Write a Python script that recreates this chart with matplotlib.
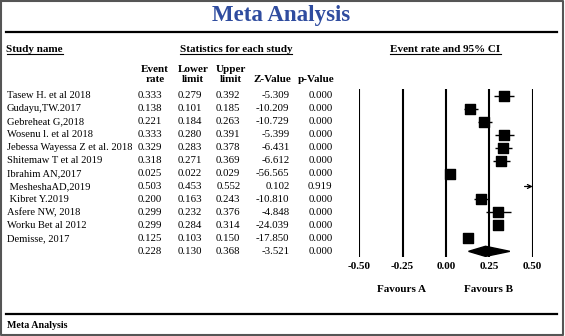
import matplotlib
matplotlib.use("Agg")
import matplotlib.pyplot as plt
import matplotlib.transforms as mtransforms
from matplotlib.patches import Polygon

# study table
studies = ["Tasew H. et al 2018", "Gudayu,TW.2017", "Gebreheat G,2018",
           "Wosenu l. et al 2018", "Jebessa Wayessa Z et al. 2018",
           "Shitemaw T et al 2019", "Ibrahim AN,2017", " MesheshaAD,2019",
           " Kibret Y.2019", "Asfere NW, 2018", "Worku Bet al 2012",
           "Demisse, 2017"]
event_rate = [0.333, 0.138, 0.221, 0.333, 0.329, 0.318, 0.025, 0.503,
              0.200, 0.299, 0.299, 0.125]
lower = [0.279, 0.101, 0.184, 0.280, 0.283, 0.271, 0.022, 0.453,
         0.163, 0.232, 0.284, 0.103]
upper = [0.392, 0.185, 0.263, 0.391, 0.378, 0.369, 0.029, 0.552,
         0.243, 0.376, 0.314, 0.150]
z_value = [-5.309, -10.209, -10.729, -5.399, -6.431, -6.612, -56.565,
           0.102, -10.810, -4.848, -24.039, -17.850]
p_value = [0.000, 0.000, 0.000, 0.000, 0.000, 0.000, 0.000, 0.919,
           0.000, 0.000, 0.000, 0.000]

# pooled estimate
pooled = {"rate": 0.228, "lower": 0.130, "upper": 0.368, "z": -3.521, "p": 0.000}

ticks = [-0.50, -0.25, 0.00, 0.25, 0.50]

W, H = 565, 336
serif = "Liberation Serif"
plt.rcParams["font.family"] = [serif, "DejaVu Serif"]

fig = plt.figure(figsize=(W / 100, H / 100), dpi=100)

# full-figure layer in pixel coordinates for the table text and frame
ax0 = fig.add_axes([0, 0, 1, 1])
ax0.set_xlim(0, W)
ax0.set_ylim(H, 0)
ax0.axis("off")

# forest plot panel: x from -0.5 to 0.5, rows as y
x_left, x_right = 359.3, 532.7
y_top, y_bot = 89.0, 256.7
row0, row_h = 95.7, 12.97
ax = fig.add_axes([x_left / W, (H - y_bot) / H, (x_right - x_left) / W, (y_bot - y_top) / H])
ax.set_xlim(-0.5, 0.5)
ax.set_ylim((y_bot - row0) / row_h, (y_top - row0) / row_h)
for s in ax.spines.values():
    s.set_visible(False)
ax.patch.set_alpha(0)
ax.set_yticks([])
ax.set_xticks(ticks)
ax.set_xticklabels(["%.2f" % t for t in ticks], fontsize=8, fontweight="bold")
ax.tick_params(axis="x", length=0, pad=4)

for t in ticks:
    ax.axvline(t, color="black", lw=1.5)

rows = list(range(len(studies)))
xmax = 0.5
for i in rows:
    if event_rate[i] > xmax:
        ax.annotate("", xy=(xmax, i), xytext=(lower[i], i),
                    arrowprops=dict(arrowstyle="->", lw=0.9, color="black",
                                    shrinkA=0, shrinkB=0, mutation_scale=7),
                    annotation_clip=False)
    else:
        ax.hlines(i, lower[i], min(upper[i], xmax), color="black", lw=1.0)
        ax.scatter(event_rate[i], i, marker="s", s=62, color="black", zorder=3,
                   clip_on=False)

ps = len(studies)
hd = 0.39
diamond = Polygon([(pooled["lower"], ps), (pooled["rate"], ps - hd),
                   (pooled["upper"], ps), (pooled["rate"], ps + hd)],
                  closed=True, color="black", zorder=3)
ax.add_patch(diamond)

# table text: x in pixels, y in the forest rows
tr = mtransforms.blended_transform_factory(ax0.transData, ax.transData)
fs_name = 7.6
fs = 7.8
col_right = [162, 202, 240.5, 289.5, 332.5]
for i in rows:
    ax0.text(7, i, studies[i], transform=tr, fontsize=fs_name, va="center", ha="left")
    vals = ["%.3f" % event_rate[i], "%.3f" % lower[i], "%.3f" % upper[i],
            "%.3f" % z_value[i], "%.3f" % p_value[i]]
    for x, v in zip(col_right, vals):
        ax0.text(x, i, v, transform=tr, fontsize=fs, va="center", ha="right")
pvals = ["%.3f" % pooled["rate"], "%.3f" % pooled["lower"], "%.3f" % pooled["upper"],
         "%.3f" % pooled["z"], "%.3f" % pooled["p"]]
for x, v in zip(col_right, pvals):
    ax0.text(x, ps, v, transform=tr, fontsize=fs, va="center", ha="right")

# title and rules
ax0.text(281.5, 15, "Meta Analysis", fontsize=16.5, fontweight="bold", color="#2f4c9f",
         ha="center", va="center")
ax0.plot([6, 557], [32, 32], color="black", lw=1.6)
ax0.plot([6, 557], [314, 314], color="black", lw=1.6)
ax0.text(7, 325, "Meta Analysis", fontsize=7.2, fontweight="bold", ha="left", va="center")

# headings
hfs = 8
heads = [(6.5, "left", "Study name"), (236, "center", "Statistics for each study"),
         (445.5, "center", "Event rate and 95% CI")]
head_txt = []
for x, ha, s in heads:
    head_txt.append(ax0.text(x, 49, s, fontsize=hfs, fontweight="bold", ha=ha, va="center"))

col_heads = [("Event", "rate"), ("Lower", "limit"), ("Upper", "limit"), ("", "Z-Value"), ("", "p-Value")]
col_cent = [155, 193, 231, 272, 316]
for x, (a, b) in zip(col_cent, col_heads):
    if a:
        ax0.text(x, 69, a, fontsize=hfs, fontweight="bold", ha="center", va="center")
    ax0.text(x, 80, b, fontsize=hfs, fontweight="bold", ha="center", va="center")

ax0.text(401.7, 290, "Favours A", fontsize=hfs, fontweight="bold", ha="center", va="center")
ax0.text(488, 290, "Favours B", fontsize=hfs, fontweight="bold", ha="center", va="center")

# underline the three headings
fig.canvas.draw()
inv = ax0.transData.inverted()
for t in head_txt:
    bb = t.get_window_extent()
    (x0, _), (x1, _) = inv.transform([(bb.x0, bb.y0), (bb.x1, bb.y1)])
    ax0.plot([x0, x1], [54, 54], color="black", lw=0.8)

# outer frame
ax0.plot([0.8, W - 2, W - 2, 0.8, 0.8], [0.8, 0.8, H - 1, H - 1, 0.8], color="#555555", lw=1.5)

fig.savefig("out.png", dpi=100)
